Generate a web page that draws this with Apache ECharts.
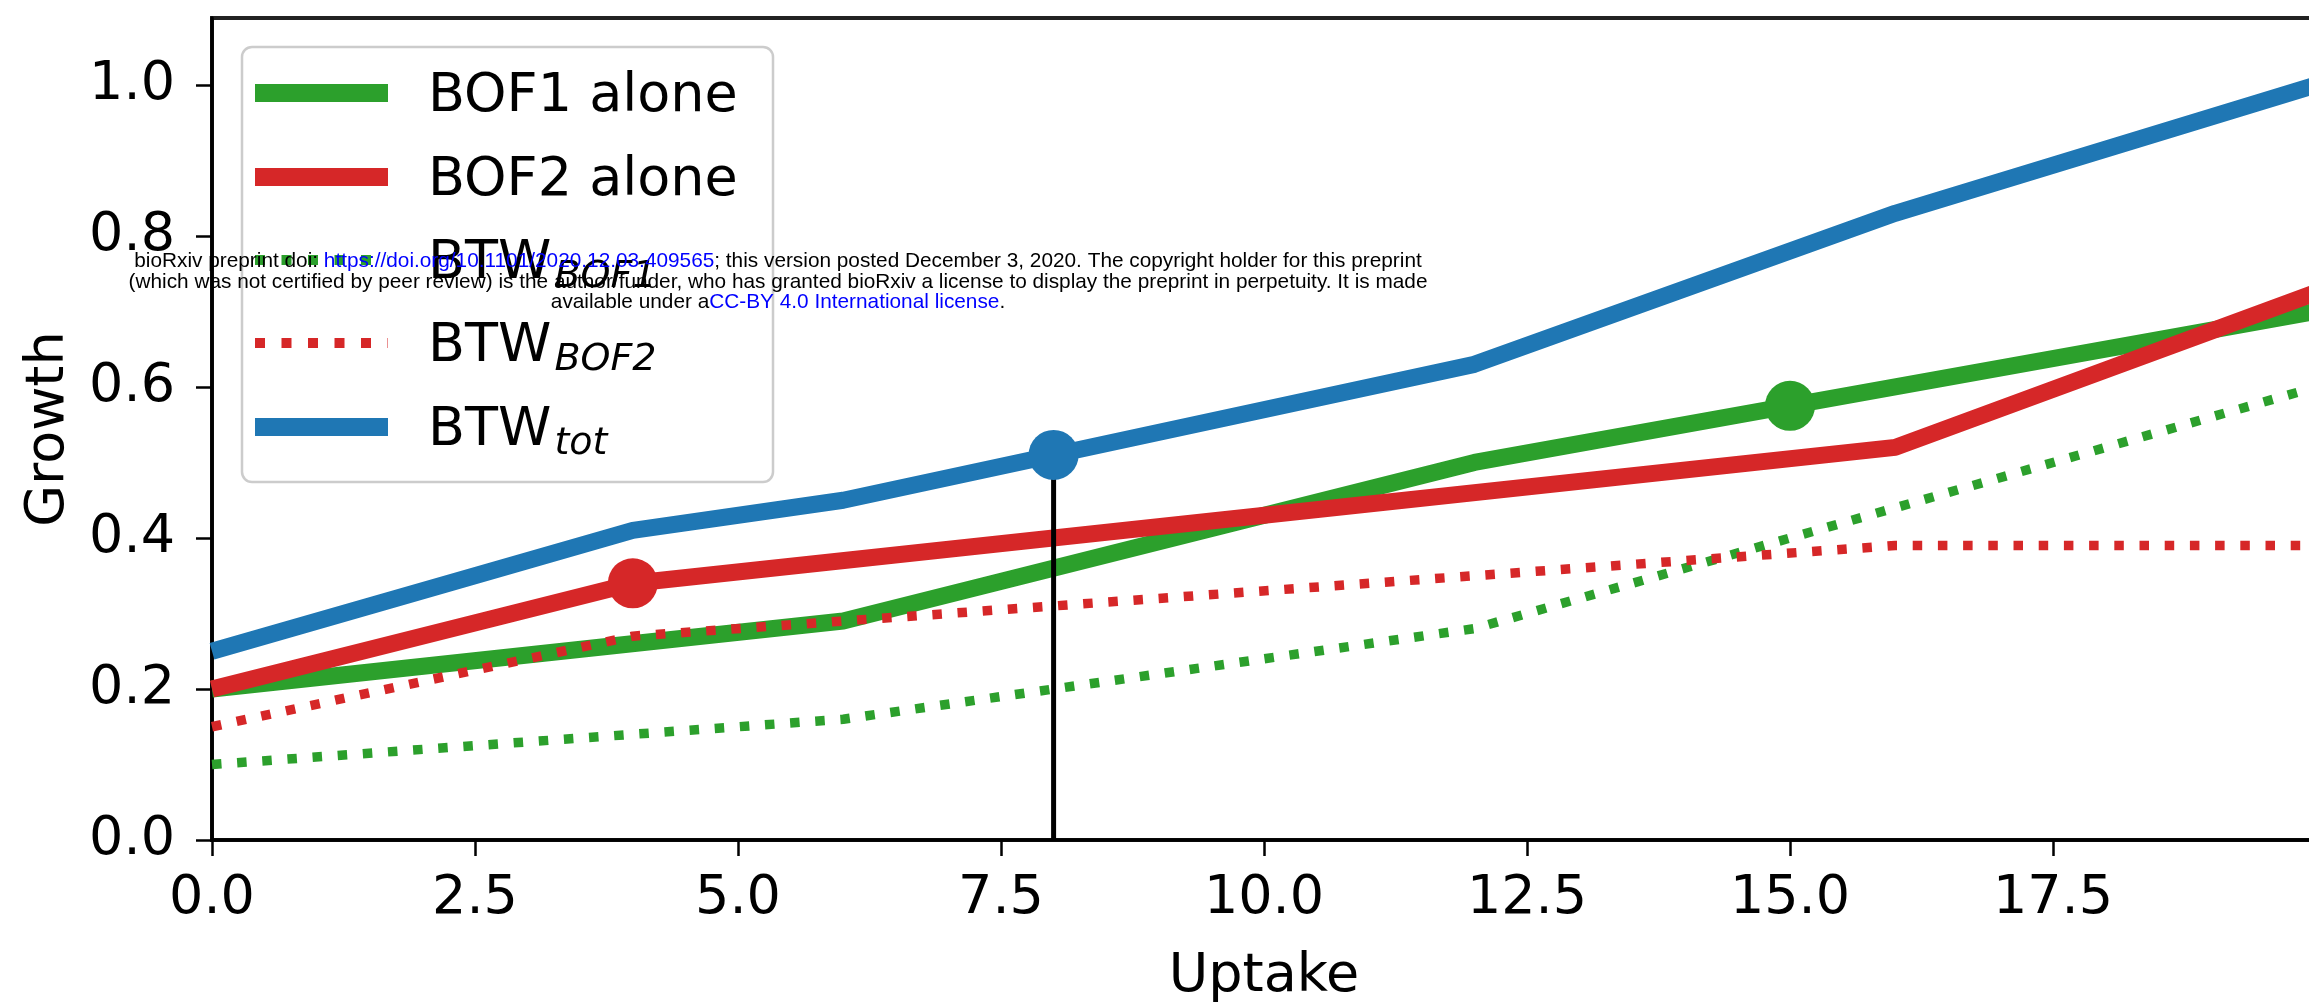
<!DOCTYPE html>
<html><head><meta charset="utf-8">
<script src="https://cdn.jsdelivr.net/npm/echarts@6/dist/echarts.min.js"></script>
<style>html,body{margin:0;padding:0;background:#fff}#c{width:2309px;height:1008px}</style>
</head><body><div id="c"></div>
<script>
// ---- data ----
const seriesNames = ['BOF1 alone', 'BOF2 alone', 'BTW_BOF1', 'BTW_BOF2', 'BTW_tot'];
const bof1X = [0, 6, 12, 20];        const bof1Y = [0.2, 0.29, 0.5, 0.7];
const bof2X = [0, 4, 16, 20];        const bof2Y = [0.2, 0.34, 0.52, 0.725];
const btwBof1X = [0, 6, 12, 20];     const btwBof1Y = [0.1, 0.16, 0.28, 0.6];
const btwBof2X = [0, 4, 16, 20];     const btwBof2Y = [0.15, 0.27, 0.39, 0.39];
const btwTotX = [0, 4, 6, 8, 12, 16, 20]; const btwTotY = [0.25, 0.41, 0.45, 0.51, 0.63, 0.83, 1.0];
const markerX = [4, 8, 15];          const markerY = [0.34, 0.51, 0.575];
const xTicks = [0, 2.5, 5, 7.5, 10, 12.5, 15, 17.5];
const yTicks = [0, 0.2, 0.4, 0.6, 0.8, 1.0];
const xName = 'Uptake', yName = 'Growth';

// ---- styles ----
const GREEN = '#2ca02c', RED = '#d62728', BLUE = '#1f77b4';
const FONT = '"DejaVu Sans", sans-serif';
const pairs = (xs, ys) => xs.map((x, i) => [x, ys[i]]);
const DOT = [9.5, 15.7];

const chart = echarts.init(document.getElementById('c'), null, {renderer: 'canvas'});

function solid(name, xs, ys, color) {
  return {type: 'line', name, data: pairs(xs, ys), symbol: 'none', smooth: false, clip: true,
    lineStyle: {color, width: 17, join: 'round', cap: 'butt'}, z: 2, silent: true};
}
function dotted(name, xs, ys, color) {
  return {type: 'line', name, data: pairs(xs, ys), symbol: 'none', smooth: false, clip: true,
    lineStyle: {color, width: 9.5, type: DOT, cap: 'butt'}, z: 2, silent: true};
}

// legend (drawn as graphics)
const legX = 242, legY = 47, legW = 531, legH = 435;
const rowMid = [97, 181, 264, 347, 431];
const handleX0 = 255, handleX1 = 388, textX = 428;
const legendRows = [
  {main: 'BOF1 alone', sub: '', color: GREEN, dash: null},
  {main: 'BOF2 alone', sub: '', color: RED, dash: null},
  {main: 'BTW', sub: 'BOF1', color: GREEN, dash: DOT},
  {main: 'BTW', sub: 'BOF2', color: RED, dash: DOT},
  {main: 'BTW', sub: 'tot', color: BLUE, dash: null}
];
const ctx = document.createElement('canvas').getContext('2d');
ctx.font = '54px "DejaVu Sans"';
const legendEls = [{
  type: 'rect', shape: {x: legX, y: legY, width: legW, height: legH, r: 10},
  style: {fill: 'rgba(255,255,255,0.85)', stroke: '#cccccc', lineWidth: 2.5}, z: 10
}];
legendRows.forEach((r, i) => {
  const y = rowMid[i];
  legendEls.push({
    type: 'line', shape: {x1: handleX0, y1: y - 4, x2: handleX1, y2: y - 4},
    style: {stroke: r.color, lineWidth: r.dash ? 10 : 18, lineDash: r.dash ? [10, 16.5] : null, lineCap: 'butt'}, z: 11
  });
  legendEls.push({
    type: 'text', x: textX, y: y,
    style: {text: r.main, fill: '#000', fontSize: 54, fontFamily: FONT, align: 'left', verticalAlign: 'middle'}, z: 11
  });
  if (r.sub) {
    const w = ctx.measureText(r.main).width;
    legendEls.push({
      type: 'text', x: textX + w + 3, y: y + 13.5,
      style: {text: r.sub, fill: '#000', fontSize: 38, fontStyle: 'italic', fontFamily: FONT, align: 'left', verticalAlign: 'middle'}, z: 11
    });
  }
});

// watermark overlay
const WM = '"Liberation Sans", Arial, sans-serif';
const WMS = 20.8;
const wmLines = [
  {y: 261, text: 'bioRxiv preprint doi: {l|https://doi.org/10.1101/2020.12.03.409565}; this version posted December 3, 2020. The copyright holder for this preprint'},
  {y: 282, text: '(which was not certified by peer review) is the author/funder, who has granted bioRxiv a license to display the preprint in perpetuity. It is made'},
  {y: 302, text: 'available under a{l|CC-BY 4.0 International license}.'}
];
const wmEls = wmLines.map(l => ({
  type: 'text', x: 778, y: l.y,
  style: {text: l.text, fill: '#000', fontSize: WMS, fontFamily: WM, align: 'center', verticalAlign: 'middle',
    rich: {l: {fill: '#0000ff', fontSize: WMS, fontFamily: WM}}},
  z: 50
}));

const option = {
  backgroundColor: '#fff',
  animation: false,
  grid: {left: 212, top: 18, width: 2104, height: 822, show: true, borderColor: '#222', borderWidth: 4,
    backgroundColor: 'transparent', containLabel: false, outerBoundsMode: 'none'},
  xAxis: {
    type: 'value', min: 0, max: 20, interval: 2.5,
    name: xName, nameLocation: 'middle', nameGap: 110,
    nameTextStyle: {fontSize: 54, fontFamily: FONT, color: '#000'},
    axisLine: {onZero: false, lineStyle: {color: '#000', width: 3.5}},
    axisTick: {show: true, length: 16, customValues: xTicks, lineStyle: {color: '#000', width: 2.5}},
    axisLabel: {customValues: xTicks, formatter: v => Number(v).toFixed(1), fontSize: 54, fontFamily: FONT, color: '#000', margin: 32},
    splitLine: {show: false}
  },
  yAxis: {
    type: 'value', min: 0, max: 1.0887, interval: 0.2,
    name: yName, nameLocation: 'middle', nameGap: 136, nameRotate: 90,
    nameTextStyle: {fontSize: 54, fontFamily: FONT, color: '#000'},
    axisLine: {onZero: false, lineStyle: {color: '#000', width: 3.5}},
    axisTick: {show: true, length: 16, customValues: yTicks, lineStyle: {color: '#000', width: 2.5}},
    axisLabel: {customValues: yTicks, formatter: v => Number(v).toFixed(1), fontSize: 54, fontFamily: FONT, color: '#000', margin: 37},
    splitLine: {show: false}
  },
  series: [
    solid(seriesNames[0], bof1X, bof1Y, GREEN),
    solid(seriesNames[1], bof2X, bof2Y, RED),
    dotted(seriesNames[2], btwBof1X, btwBof1Y, GREEN),
    dotted(seriesNames[3], btwBof2X, btwBof2Y, RED),
    solid(seriesNames[4], btwTotX, btwTotY, BLUE),
    {type: 'line', name: 'vline', data: [[markerX[1], 0], [markerX[1], markerY[1]]], symbol: 'none',
      lineStyle: {color: '#000', width: 5}, z: 3, silent: true},
    {type: 'scatter', name: 'markers', data: markerX.map((x, i) => ({value: [x, markerY[i]], itemStyle: {color: [RED, BLUE, GREEN][i], opacity: 1}})),
      symbol: 'circle', symbolSize: 50, itemStyle: {opacity: 1}, z: 4, silent: true}
  ],
  graphic: legendEls.concat(wmEls)
};
chart.setOption(option);
</script></body></html>
